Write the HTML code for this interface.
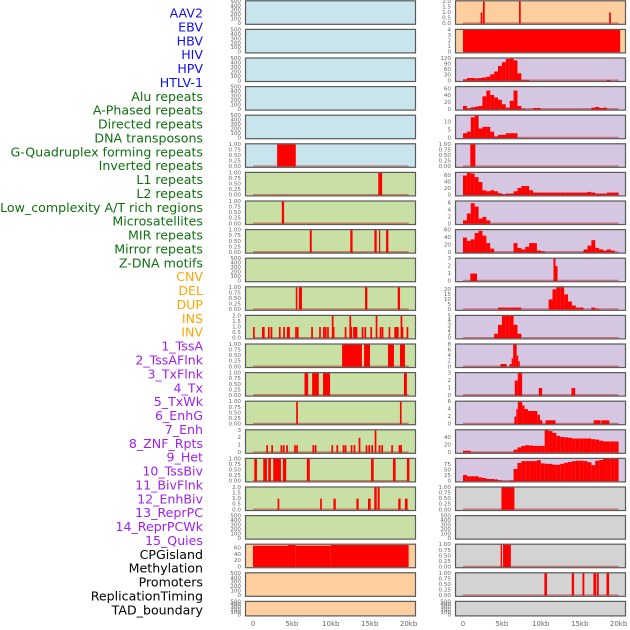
<!DOCTYPE html>
<html><head><meta charset="utf-8"><style>
html,body{margin:0;padding:0;background:#fff;}
svg{display:block;font-family:"DejaVu Sans","Liberation Sans",sans-serif;}
</style></head><body>
<svg id="chart" width="630" height="630" viewBox="0 0 630 630" xmlns="http://www.w3.org/2000/svg"></svg>
<script>
// ---- labels ----
const rowLabels = ["AAV2","EBV","HBV","HIV","HPV","HTLV-1","Alu repeats","A-Phased repeats","Directed repeats","DNA transposons","G-Quadruplex forming repeats","Inverted repeats","L1 repeats","L2 repeats","Low_complexity A/T rich regions","Microsatellites","MIR repeats","Mirror repeats","Z-DNA motifs","CNV","DEL","DUP","INS","INV","1_TssA","2_TssAFlnk","3_TxFlnk","4_Tx","5_TxWk","6_EnhG","7_Enh","8_ZNF_Rpts","9_Het","10_TssBiv","11_BivFlnk","12_EnhBiv","13_ReprPC","14_ReprPCWk","15_Quies","CPGisland","Methylation","Promoters","ReplicationTiming","TAD_boundary"];
const labelGroups = [6,13,5,15,5];
const groupColors = ["#1010f0","#107010","#ffa500","#a020f0","#000000"];
const xTickKb = [0,5,10,15,20];
const xTickLabels = ["0","5kb","10kb","15kb","20kb"];

// ---- data: segments [startKb,endKb,value], spikes [kb,value], bins (0.5kb each) ----
const L5 = [[3.1,5.5,1]];
const L6 = [[16.1,16.6,1]];
const L7 = [[3.7,4.0,1]];
const L8 = [[7.3,7.55,1],[12.5,12.8,1],[15.6,15.9,1],[16.2,16.35,1],[17.1,17.4,1]];
const L10 = [[5.5,5.7,1],[5.9,6.3,1],[14.4,14.7,1],[18.6,18.9,1]];
const L11pos = [0,1.15,1.28,1.92,2.26,3.33,3.88,4.35,4.52,5.42,5.64,7.48,8.5,9.0,9.23,9.53,10.13,10.25,11.79,12.39,12.52,12.87,13.03,13.2,13.97,14.32,15.08,15.77,16.28,16.54,17.43,18.16,18.37,18.5,18.97,19.1,19.74];
const L11val = [1,1,1,1,1,1,1,1,1,1,1,1,1,1,1,1,2,1,1,2,1,1,1,1,1,1,1,2,1,1,1,1,1,1,2,1,1];
const L12 = [[11.45,14.0,1],[14.27,15.04,1],[17.35,18.12,1],[18.89,19.53,1]];
const L13 = [[6.62,7.09,1],[7.6,8.46,1],[9.0,9.91,1],[19.4,19.78,1]];
const L14 = [[5.55,5.77,1],[18.89,19.1,1]];
const L15pos = [1.71,2.35,3.54,3.84,4.27,5.29,5.55,7.64,7.94,10.08,10.72,11.53,11.79,12.56,12.94,13.58,14.48,14.83,15.21,15.64,16.15,16.49,17.77,18.72,18.93];
const L15val = [1,1,1,1,1,1,1,1,1,1,1,1,1,1,1,2,1,1,1,3,1,1,1,1,1];
const L16 = [[0.17,0.51,1],[1.32,1.79,1],[1.96,2.3,1],[2.6,3.59,1],[3.84,4.27,1],[6.92,7.3,1],[15.17,15.51,1],[17.99,18.33,1],[19.78,20.1,1]];
const L17 = [[3.16,3.38,1],[8.63,8.85,1],[10.34,10.64,1],[13.29,13.58,1],[14.78,15.12,1],[15.59,15.9,2],[16.02,16.28,2],[18.67,18.97,1],[19.53,19.87,1]];
const L19 = [[0,4.5,68],[4.5,5.5,70],[5.5,10,68],[10,20,70]];

const R0pos = [2.27,2.57,7.2,18.79];
const R0val = [1,2,2,1];
const R1 = [[0,20.2,4]];
const R2bins = [8,15,15,13,15,18,22,35,50,80,100,118,120,110,40,5,5,0,0,0,0,0,0,0,0,0,0,0,0,0,0,0,0,0,0,0,0,5,0,0];
const R3bins = [10,3,6,8,10,38,55,42,35,28,15,5,25,55,10,2,0,0,4,4,0,0,0,0,0,0,0,0,0,0,0,0,0,5,7,4,5,0,0,0];
const R4bins = [3,4,13,14,6,7,7,4,1,2,2,3,3,3,0,0,0,0,0,0,0,0,0,0,0,0,0,0,0,0,0,0,0,0,0,0,0,0,0,0];
const R5 = [[0.94,1.59,1]];
const R6bins = [60,68,66,55,40,15,12,15,12,6,3,5,5,12,22,28,28,15,8,8,8,8,8,8,8,8,8,8,8,8,8,8,10,8,5,5,5,8,8,8];
const R7bins = [1,3,6,5,1.5,2,1,0,0,0,0,0,0,0,0,0,0,0,0,0,0,0,0,0,0,0,0,0,0,0,0,0,0,0,0,0,0,0,0,0];
const R8bins = [40,31,35,52,58,45,25,10,0,0,0,0,0,25,12,8,15,25,25,5,3,0,0,0,0,0,0,0,0,0,0,8,18,33,12,8,5,8,5,0];
const R9 = [[0.94,1.8,1],[11.63,11.89,3],[11.89,12.15,2]];
const R10bins = [0,0,0,0,0,0,0,0,0,2,2,2,2,2,2,0,0,0,0,0,0,0,10,20,22,22,15,8,4,2,2,0,0,2,1,0,0,0,0,0];
const R11bins = [0,0,0,0,0,0,0,0,1,3,5,5,5,3,1,0,0,0,0,0,0,0,0,0,0,0,0,0,0,0,0,0,0,0,0,0,0,0,0,0];
const R12 = [[4.8,5.6,1],[6.0,6.25,1],[6.25,6.45,3],[6.45,6.9,8],[6.9,7.1,4],[7.1,7.3,2]];
const R13 = [[6.65,7.04,2],[7.04,7.6,3],[9.74,10.17,1],[13.94,14.42,1]];
const R14 = [[6.6,6.85,2],[6.85,7.05,4],[7.05,7.6,6],[7.6,7.9,5],[7.9,8.35,4],[8.35,9.55,3.5],[9.55,9.9,2.5],[9.9,10.2,1],[10.6,11.9,1],[16.8,17.7,1],[17.8,18.8,1]];
const R15bins = [5,5,1,1,1,1,1,1,1,1,1,1,1,8,14,18,20,19,18,18,18,60,58,53,45,42,41,40,38,38,38,38,38,36,35,32,30,30,30,30];
const R16bins = [28,22,22,22,17,14,10,10,8,4,1,1,3,55,82,90,90,90,90,94,80,78,78,74,74,78,83,86,90,92,92,90,85,72,92,95,100,100,100,100];
const R17 = [[4.94,6.61,1]];
const R19 = [[4.84,5.02,1],[5.15,6.15,1]];
const R20 = [[10.46,10.8,1],[13.98,14.28,1],[15.35,15.6,1],[16.77,17.1,1],[17.19,17.45,1],[18.44,18.78,1]];

// ---- tick sets ----
const T500 = [0,100,200,300,400,500];
const T01 = [0,0.25,0.5,0.75,1];
const T02 = [0,0.5,1,1.5,2];
const T03 = [0,1,2,3];

const C = {blue:"#c8e4ec",green:"#c8e0a4",peach:"#fecf9e",lav:"#d5c6e2",gray:"#d3d3d3"};
function P(col,bg,ticks,ymax,kind,a,b,dec){return {col,bg,ticks,ymax,kind,a,b,dec};}
const leftPanels = [
 P(0,C.blue,T500,500,"none"),P(0,C.blue,T500,500,"none"),P(0,C.blue,T500,500,"none"),P(0,C.blue,T500,500,"none"),P(0,C.blue,T500,500,"none"),
 P(0,C.blue,T01,1,"seg",L5,null,2),
 P(0,C.green,T01,1,"seg",L6,null,2),P(0,C.green,T01,1,"seg",L7,null,2),P(0,C.green,T01,1,"seg",L8,null,2),
 P(0,C.green,T500,500,"none"),P(0,C.green,T01,1,"seg",L10,null,2),
 P(0,C.green,T02,2,"spike",L11pos,L11val,1),
 P(0,C.green,T01,1,"seg",L12,null,2),P(0,C.green,T01,1,"seg",L13,null,2),P(0,C.green,T01,1,"seg",L14,null,2),
 P(0,C.green,T03,3,"spike",L15pos,L15val,0),
 P(0,C.green,T01,1,"seg",L16,null,2),P(0,C.green,T02,2,"seg",L17,null,1),
 P(0,C.green,T500,500,"none"),
 P(0,C.peach,[0,20,40,60],71,"seg",L19,null,0),
 P(0,C.peach,T500,500,"none"),P(0,C.peach,T500,500,"none")
];
const rightPanels = [
 P(1,C.peach,T02,2,"spike",R0pos,R0val,1),
 P(1,C.peach,[0,1,2,3,4],4,"seg",R1,null,0),
 P(1,C.lav,[0,30,60,90,120],120,"bins",R2bins,null,0),
 P(1,C.lav,[0,20,40,60],65,"bins",R3bins,null,0),
 P(1,C.lav,[0,5,10],14,"bins",R4bins,null,0),
 P(1,C.lav,T01,1,"seg",R5,null,2),
 P(1,C.lav,[0,20,40,60],68,"bins",R6bins,null,0),
 P(1,C.lav,[0,2,4,6],6.5,"bins",R7bins,null,0),
 P(1,C.lav,[0,20,40,60],60,"bins",R8bins,null,0),
 P(1,C.lav,T03,3,"seg",R9,null,0),
 P(1,C.lav,[0,5,10,15,20],22,"bins",R10bins,null,0),
 P(1,C.lav,[0,1,2,3,4,5],5,"bins",R11bins,null,0),
 P(1,C.lav,[0,2,4,6,8],8,"seg",R12,null,0),
 P(1,C.lav,T03,3,"seg",R13,null,0),
 P(1,C.lav,[0,2,4,6],6,"seg",R14,null,0),
 P(1,C.lav,[0,20,40],60,"bins",R15bins,null,0),
 P(1,C.lav,[0,25,50,75],100,"bins",R16bins,null,0),
 P(1,C.gray,T01,1,"seg",R17,null,2),
 P(1,C.gray,T500,500,"none"),
 P(1,C.gray,T01,1,"seg",R19,null,2),
 P(1,C.gray,T01,1,"seg",R20,null,2),
 P(1,C.gray,T500,500,"none")
];

const NS="http://www.w3.org/2000/svg";
const svg=document.getElementById("chart");
function mk(tag,attrs,parent){const e=document.createElementNS(NS,tag);for(const k in attrs)e.setAttribute(k,attrs[k]);(parent||svg).appendChild(e);return e;}
const colX=[245,455], panelW=171;
function xScale(col,kb){return colX[col]+8+kb*7.78;}
function rowTop(i){return 0.3+28.6*i;}
function rowH(i){return i===21?15.5:24.5;}

// labels
let li=0;
labelGroups.forEach((n,g)=>{for(let k=0;k<n;k++){
  const t=mk("text",{x:203,y:14+li*13.88,"text-anchor":"end","dominant-baseline":"middle","font-size":"12.6",fill:groupColors[g]});
  
  
  t.textContent=rowLabels[li];li++;}});

function drawPanel(p,i){
  const g=mk("g",{});
  
  
  const top=rowTop(i),h=rowH(i),x=colX[p.col];
  const pt=top+1,pb=top+h-1.2;
  const y=v=>pb-(v/p.ymax)*(pb-pt);
  const bg=mk("rect",{x:x,y:top,width:panelW,height:h,fill:p.bg},g);
  
  
  p.ticks.forEach(v=>{
    const t=mk("text",{x:x-4,y:y(v),"text-anchor":"end","dominant-baseline":"middle","font-size":"5.6",fill:"#666"},g);
    
    
    t.textContent=p.ticks===T500?String(v):v.toFixed(p.dec||0);
  });
  if(p.kind!=="none"){
    const bl=mk("line",{x1:xScale(p.col,0),x2:xScale(p.col,20),y1:pb-0.6,y2:pb-0.6,stroke:"rgba(190,0,0,0.45)","stroke-width":1.3},g);
    
    
  }
  const bar=(s,e,v)=>{if(v<=0)return;const x1=xScale(p.col,s),x2=xScale(p.col,e);
    const r=mk("rect",{x:x1,y:y(v),width:Math.max(1.2,x2-x1),height:pb-y(v),fill:"#ff0000"},g);
    
    };
  if(p.kind==="seg")p.a.forEach(d=>bar(d[0],d[1],d[2]));
  if(p.kind==="bins")p.a.forEach((v,k)=>bar(k*0.5,k*0.5+0.5,v));
  if(p.kind==="spike")p.a.forEach((kb,k)=>bar(kb,kb+0.22,p.b[k]));
  const fr=mk("rect",{x:x+0.5,y:top+0.5,width:panelW-1,height:h-1,fill:"none",stroke:"#5a5a5a","stroke-width":1.2},g);
  
  
}
leftPanels.forEach(drawPanel);
rightPanels.forEach(drawPanel);

[0,1].forEach(col=>{xTickKb.forEach((kb,k)=>{
  const t=mk("text",{x:xScale(col,kb),y:626,"text-anchor":"middle","font-size":"7",fill:"#666"});
  
  
  t.textContent=xTickLabels[k];});});
</script>
</body></html>
